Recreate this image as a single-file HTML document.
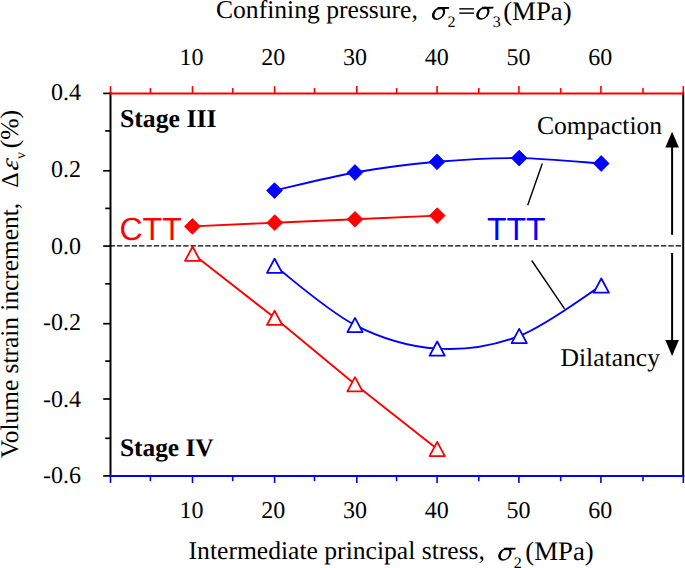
<!DOCTYPE html>
<html><head><meta charset="utf-8"><style>
html,body{margin:0;padding:0;background:#fff;}
body{width:685px;height:568px;overflow:hidden;}
svg{display:block;}
</style></head><body>
<svg width="685" height="568" viewBox="0 0 685 568" text-rendering="geometricPrecision">
<rect width="685" height="568" fill="#fff"/>
<line x1="109.7" y1="245.9" x2="682.5" y2="245.9" stroke="#000" stroke-width="1.3" stroke-dasharray="5.35 2.0"/>
<line x1="110.50" y1="93.40" x2="110.50" y2="86.10" stroke="#ff0000" stroke-width="1.6"/>
<line x1="110.50" y1="476.00" x2="110.50" y2="483.00" stroke="#0000ff" stroke-width="1.6"/>
<line x1="150.40" y1="93.40" x2="150.40" y2="88.10" stroke="#ff0000" stroke-width="1.6"/>
<line x1="150.40" y1="476.00" x2="150.40" y2="481.20" stroke="#0000ff" stroke-width="1.6"/>
<line x1="192.50" y1="93.40" x2="192.50" y2="86.10" stroke="#ff0000" stroke-width="1.6"/>
<line x1="192.50" y1="476.00" x2="192.50" y2="483.00" stroke="#0000ff" stroke-width="1.6"/>
<line x1="232.70" y1="93.40" x2="232.70" y2="88.10" stroke="#ff0000" stroke-width="1.6"/>
<line x1="232.70" y1="476.00" x2="232.70" y2="481.20" stroke="#0000ff" stroke-width="1.6"/>
<line x1="274.60" y1="93.40" x2="274.60" y2="86.10" stroke="#ff0000" stroke-width="1.6"/>
<line x1="274.60" y1="476.00" x2="274.60" y2="483.00" stroke="#0000ff" stroke-width="1.6"/>
<line x1="314.50" y1="93.40" x2="314.50" y2="88.10" stroke="#ff0000" stroke-width="1.6"/>
<line x1="314.50" y1="476.00" x2="314.50" y2="481.20" stroke="#0000ff" stroke-width="1.6"/>
<line x1="356.80" y1="93.40" x2="356.80" y2="86.10" stroke="#ff0000" stroke-width="1.6"/>
<line x1="356.80" y1="476.00" x2="356.80" y2="483.00" stroke="#0000ff" stroke-width="1.6"/>
<line x1="396.60" y1="93.40" x2="396.60" y2="88.10" stroke="#ff0000" stroke-width="1.6"/>
<line x1="396.60" y1="476.00" x2="396.60" y2="481.20" stroke="#0000ff" stroke-width="1.6"/>
<line x1="437.10" y1="93.40" x2="437.10" y2="86.10" stroke="#ff0000" stroke-width="1.6"/>
<line x1="437.10" y1="476.00" x2="437.10" y2="483.00" stroke="#0000ff" stroke-width="1.6"/>
<line x1="478.80" y1="93.40" x2="478.80" y2="88.10" stroke="#ff0000" stroke-width="1.6"/>
<line x1="478.80" y1="476.00" x2="478.80" y2="481.20" stroke="#0000ff" stroke-width="1.6"/>
<line x1="518.90" y1="93.40" x2="518.90" y2="86.10" stroke="#ff0000" stroke-width="1.6"/>
<line x1="518.90" y1="476.00" x2="518.90" y2="483.00" stroke="#0000ff" stroke-width="1.6"/>
<line x1="560.70" y1="93.40" x2="560.70" y2="88.10" stroke="#ff0000" stroke-width="1.6"/>
<line x1="560.70" y1="476.00" x2="560.70" y2="481.20" stroke="#0000ff" stroke-width="1.6"/>
<line x1="600.90" y1="93.40" x2="600.90" y2="86.10" stroke="#ff0000" stroke-width="1.6"/>
<line x1="600.90" y1="476.00" x2="600.90" y2="483.00" stroke="#0000ff" stroke-width="1.6"/>
<line x1="643.00" y1="93.40" x2="643.00" y2="88.10" stroke="#ff0000" stroke-width="1.6"/>
<line x1="643.00" y1="476.00" x2="643.00" y2="481.20" stroke="#0000ff" stroke-width="1.6"/>
<line x1="683.30" y1="93.40" x2="683.30" y2="86.10" stroke="#ff0000" stroke-width="1.6"/>
<line x1="683.30" y1="476.00" x2="683.30" y2="483.00" stroke="#0000ff" stroke-width="1.6"/>
<line x1="110.5" y1="93.40" x2="103.20" y2="93.40" stroke="#000" stroke-width="1.7"/>
<line x1="110.5" y1="130.90" x2="105.20" y2="130.90" stroke="#000" stroke-width="1.7"/>
<line x1="110.5" y1="170.80" x2="103.20" y2="170.80" stroke="#000" stroke-width="1.7"/>
<line x1="110.5" y1="208.40" x2="105.20" y2="208.40" stroke="#000" stroke-width="1.7"/>
<line x1="110.5" y1="246.10" x2="103.20" y2="246.10" stroke="#000" stroke-width="1.7"/>
<line x1="110.5" y1="283.80" x2="105.20" y2="283.80" stroke="#000" stroke-width="1.7"/>
<line x1="110.5" y1="323.70" x2="103.20" y2="323.70" stroke="#000" stroke-width="1.7"/>
<line x1="110.5" y1="361.10" x2="105.20" y2="361.10" stroke="#000" stroke-width="1.7"/>
<line x1="110.5" y1="399.00" x2="103.20" y2="399.00" stroke="#000" stroke-width="1.7"/>
<line x1="110.5" y1="438.30" x2="105.20" y2="438.30" stroke="#000" stroke-width="1.7"/>
<line x1="110.5" y1="475.90" x2="103.20" y2="475.90" stroke="#000" stroke-width="1.7"/>
<line x1="110.5" y1="92.40" x2="110.5" y2="477.00" stroke="#000" stroke-width="2"/>
<line x1="683.2" y1="92.40" x2="683.2" y2="477.00" stroke="#000" stroke-width="2"/>
<line x1="109.5" y1="93.40" x2="684.2" y2="93.40" stroke="#ff0000" stroke-width="2"/>
<line x1="109.5" y1="476.00" x2="684.2" y2="476.00" stroke="#0000ff" stroke-width="2"/>
<path d="M192.40,226.40 L274.70,222.70 L355.00,219.30 L437.20,215.60" fill="none" stroke="#ff0000" stroke-width="1.9"/>
<path d="M192.60,253.75 L274.60,317.85 L355.00,384.30 L437.20,449.00" fill="none" stroke="#ff0000" stroke-width="1.9"/>
<path d="M274.50,190.60 C287.92,187.58 327.92,177.30 355.00,172.50 C382.08,167.70 409.63,164.20 437.00,161.80 C464.37,159.40 491.83,157.82 519.20,158.10 C546.57,158.38 587.53,162.60 601.20,163.50" fill="none" stroke="#0000ff" stroke-width="1.9"/>
<path d="M274.60,265.85 C288.00,275.72 327.90,311.26 355.00,325.05 C382.10,338.84 409.83,346.78 437.20,348.60 C464.57,350.43 491.85,346.50 519.20,336.00 C546.55,325.50 587.62,294.00 601.30,285.60" fill="none" stroke="#0000ff" stroke-width="1.9"/>
<line x1="542.3" y1="163.5" x2="527.7" y2="205.2" stroke="#000" stroke-width="1.4"/>
<line x1="531.7" y1="260.5" x2="564.6" y2="308.9" stroke="#000" stroke-width="1.4"/>
<path d="M192.40,218.50 L200.30,226.40 L192.40,234.30 L184.50,226.40Z" fill="#ff0000" stroke="#ff0000" stroke-width="0.8" stroke-linejoin="round"/>
<path d="M274.70,214.80 L282.60,222.70 L274.70,230.60 L266.80,222.70Z" fill="#ff0000" stroke="#ff0000" stroke-width="0.8" stroke-linejoin="round"/>
<path d="M355.00,211.40 L362.90,219.30 L355.00,227.20 L347.10,219.30Z" fill="#ff0000" stroke="#ff0000" stroke-width="0.8" stroke-linejoin="round"/>
<path d="M437.20,207.70 L445.10,215.60 L437.20,223.50 L429.30,215.60Z" fill="#ff0000" stroke="#ff0000" stroke-width="0.8" stroke-linejoin="round"/>
<path d="M274.50,182.70 L282.40,190.60 L274.50,198.50 L266.60,190.60Z" fill="#0000ff" stroke="#0000ff" stroke-width="0.8" stroke-linejoin="round"/>
<path d="M355.00,164.60 L362.90,172.50 L355.00,180.40 L347.10,172.50Z" fill="#0000ff" stroke="#0000ff" stroke-width="0.8" stroke-linejoin="round"/>
<path d="M437.00,153.90 L444.90,161.80 L437.00,169.70 L429.10,161.80Z" fill="#0000ff" stroke="#0000ff" stroke-width="0.8" stroke-linejoin="round"/>
<path d="M519.20,150.20 L527.10,158.10 L519.20,166.00 L511.30,158.10Z" fill="#0000ff" stroke="#0000ff" stroke-width="0.8" stroke-linejoin="round"/>
<path d="M601.20,155.60 L609.10,163.50 L601.20,171.40 L593.30,163.50Z" fill="#0000ff" stroke="#0000ff" stroke-width="0.8" stroke-linejoin="round"/>
<path d="M192.60,246.65 L200.20,260.85 L185.00,260.85Z" fill="#fff" stroke="#ff0000" stroke-width="1.8" stroke-linejoin="round"/>
<path d="M274.60,310.75 L282.20,324.95 L267.00,324.95Z" fill="#fff" stroke="#ff0000" stroke-width="1.8" stroke-linejoin="round"/>
<path d="M355.00,377.20 L362.60,391.40 L347.40,391.40Z" fill="#fff" stroke="#ff0000" stroke-width="1.8" stroke-linejoin="round"/>
<path d="M437.20,441.90 L444.80,456.10 L429.60,456.10Z" fill="#fff" stroke="#ff0000" stroke-width="1.8" stroke-linejoin="round"/>
<path d="M274.60,258.75 L282.20,272.95 L267.00,272.95Z" fill="#fff" stroke="#0000ff" stroke-width="1.8" stroke-linejoin="round"/>
<path d="M355.00,317.95 L362.60,332.15 L347.40,332.15Z" fill="#fff" stroke="#0000ff" stroke-width="1.8" stroke-linejoin="round"/>
<path d="M437.20,341.50 L444.80,355.70 L429.60,355.70Z" fill="#fff" stroke="#0000ff" stroke-width="1.8" stroke-linejoin="round"/>
<path d="M519.20,328.90 L526.80,343.10 L511.60,343.10Z" fill="#fff" stroke="#0000ff" stroke-width="1.8" stroke-linejoin="round"/>
<path d="M601.30,278.50 L608.90,292.70 L593.70,292.70Z" fill="#fff" stroke="#0000ff" stroke-width="1.8" stroke-linejoin="round"/>
<line x1="672.1" y1="146" x2="672.1" y2="234.8" stroke="#000" stroke-width="2"/>
<path d="M672.1,131.7 L678.9,147.6 L665.3,147.6Z" fill="#000"/>
<line x1="672.1" y1="253" x2="672.1" y2="342" stroke="#000" stroke-width="2"/>
<path d="M672.1,356.0 L678.9,340.1 L665.3,340.1Z" fill="#000"/>
<text x="191.60" y="64.80" font-family="Liberation Serif" font-size="24" text-anchor="middle" >10</text>
<text x="191.60" y="517.90" font-family="Liberation Serif" font-size="24" text-anchor="middle" >10</text>
<text x="273.34" y="64.80" font-family="Liberation Serif" font-size="24" text-anchor="middle" >20</text>
<text x="273.34" y="517.90" font-family="Liberation Serif" font-size="24" text-anchor="middle" >20</text>
<text x="355.08" y="64.80" font-family="Liberation Serif" font-size="24" text-anchor="middle" >30</text>
<text x="355.08" y="517.90" font-family="Liberation Serif" font-size="24" text-anchor="middle" >30</text>
<text x="436.82" y="64.80" font-family="Liberation Serif" font-size="24" text-anchor="middle" >40</text>
<text x="436.82" y="517.90" font-family="Liberation Serif" font-size="24" text-anchor="middle" >40</text>
<text x="518.56" y="64.80" font-family="Liberation Serif" font-size="24" text-anchor="middle" >50</text>
<text x="518.56" y="517.90" font-family="Liberation Serif" font-size="24" text-anchor="middle" >50</text>
<text x="600.30" y="64.80" font-family="Liberation Serif" font-size="24" text-anchor="middle" >60</text>
<text x="600.30" y="517.90" font-family="Liberation Serif" font-size="24" text-anchor="middle" >60</text>
<text x="81.10" y="100.30" font-family="Liberation Serif" font-size="24" text-anchor="end" >0.4</text>
<text x="81.10" y="176.82" font-family="Liberation Serif" font-size="24" text-anchor="end" >0.2</text>
<text x="81.10" y="253.74" font-family="Liberation Serif" font-size="24" text-anchor="end" >0.0</text>
<text x="81.10" y="330.16" font-family="Liberation Serif" font-size="24" text-anchor="end" >-0.2</text>
<text x="81.10" y="407.18" font-family="Liberation Serif" font-size="24" text-anchor="end" >-0.4</text>
<text x="81.10" y="483.20" font-family="Liberation Serif" font-size="24" text-anchor="end" >-0.6</text>
<text x="216.00" y="18.10" font-family="Liberation Serif" font-size="25.6" >Confining pressure,</text>
<g transform="translate(431.70,20.00) scale(1.04)"><g transform="translate(6.6,-6.25) skewX(-18)"><path fill-rule="evenodd" d="M6.10,0.00 A6.1,6.2 0 1 0 -6.10,0.00 A6.1,6.2 0 1 0 6.10,0.00Z M4.10,0.10 A3.85,4.6 0 1 0 -3.60,0.10 A3.85,4.6 0 1 0 4.10,0.10Z"/></g><path d="M5.6,-12.5 L16.9,-12.5 L16.6,-10.8 L6.4,-10.2Z"/></g>
<text x="447.60" y="26.60" font-family="Liberation Serif" font-size="16" >2</text>
<rect x="459.3" y="8.15" width="14.6" height="1.4"/><rect x="459.3" y="12.45" width="14.6" height="1.4"/>
<g transform="translate(476.00,19.80) scale(1.04)"><g transform="translate(6.6,-6.25) skewX(-18)"><path fill-rule="evenodd" d="M6.10,0.00 A6.1,6.2 0 1 0 -6.10,0.00 A6.1,6.2 0 1 0 6.10,0.00Z M4.10,0.10 A3.85,4.6 0 1 0 -3.60,0.10 A3.85,4.6 0 1 0 4.10,0.10Z"/></g><path d="M5.6,-12.5 L16.9,-12.5 L16.6,-10.8 L6.4,-10.2Z"/></g>
<text x="492.80" y="26.60" font-family="Liberation Serif" font-size="16" >3</text>
<text x="503.20" y="19.60" font-family="Liberation Serif" font-size="26.8" >(MPa)</text>
<text x="188.60" y="558.80" font-family="Liberation Serif" font-size="25.6" >Intermediate principal stress,</text>
<g transform="translate(498.00,560.80) scale(1.04)"><g transform="translate(6.6,-6.25) skewX(-18)"><path fill-rule="evenodd" d="M6.10,0.00 A6.1,6.2 0 1 0 -6.10,0.00 A6.1,6.2 0 1 0 6.10,0.00Z M4.10,0.10 A3.85,4.6 0 1 0 -3.60,0.10 A3.85,4.6 0 1 0 4.10,0.10Z"/></g><path d="M5.6,-12.5 L16.9,-12.5 L16.6,-10.8 L6.4,-10.2Z"/></g>
<text x="513.80" y="567.90" font-family="Liberation Serif" font-size="16" >2</text>
<text x="525.30" y="560.20" font-family="Liberation Serif" font-size="26.8" >(MPa)</text>
<g transform="translate(17.8,458.3) rotate(-90)"><text x="0" y="0" font-family="Liberation Serif" font-size="25.4">Volume strain increment,</text><text x="270.6" y="0" font-family="Liberation Serif" font-size="24">Δ</text><text transform="translate(287.0,0) scale(1.05,0.97) skewX(-14)" font-family="Liberation Serif" font-size="25.6" font-style="italic">ε</text><text x="299.3" y="6.8" font-family="Liberation Serif" font-size="14">v</text><text x="310" y="0" font-family="Liberation Serif" font-size="25.6">(%)</text></g>
<text x="119.90" y="126.50" font-family="Liberation Serif" font-size="25.75" font-weight="bold">Stage III</text>
<text x="119.90" y="455.50" font-family="Liberation Serif" font-size="25.4" font-weight="bold">Stage IV</text>
<text x="119.5" y="239.8" font-family="Liberation Sans" font-size="32" fill="#ff0000">CTT</text>
<text x="487" y="239.8" font-family="Liberation Sans" font-size="32" fill="#0000ff">TTT</text>
<text x="537.00" y="133.60" font-family="Liberation Serif" font-size="25.6" >Compaction</text>
<text x="560.50" y="365.50" font-family="Liberation Serif" font-size="25.6" >Dilatancy</text>
</svg>
</body></html>
